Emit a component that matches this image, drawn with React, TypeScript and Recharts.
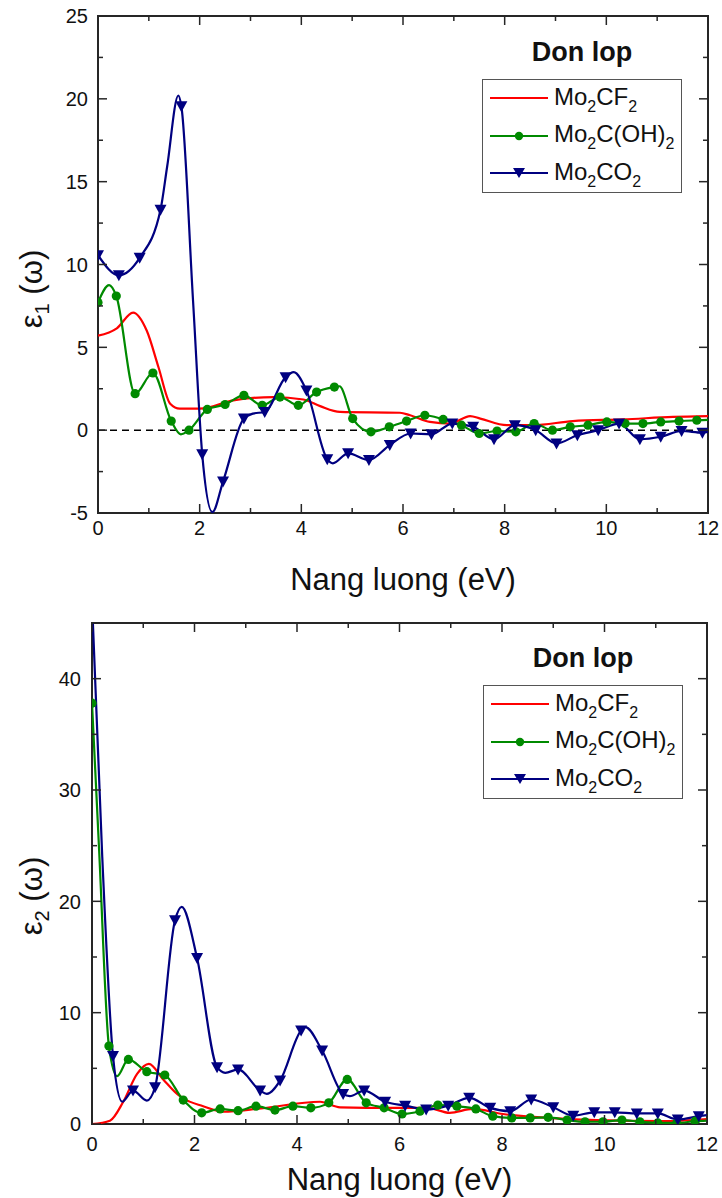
import React from "react";
import { ComposedChart, Line, XAxis, YAxis, ReferenceLine, ReferenceArea } from "recharts";

type Pt = [number, number];

// ---- upper panel: real part eps1 ----
const eps1Cf2: Pt[] = [
  [0, 5.7], [0.37, 6.15], [0.69, 7.1], [0.96, 6.0], [1.19, 3.8], [1.42, 1.6], [1.61, 1.3], [2.0, 1.3],
  [2.66, 1.8], [3.45, 2.0], [4.04, 1.85], [4.37, 1.45], [4.76, 1.1], [5.94, 1.05], [6.14, 0.9], [6.53, 0.5],
  [6.93, 0.4], [7.32, 0.85], [7.52, 0.7], [8.04, 0.3], [8.56, 0.3], [9.34, 0.55], [10.33, 0.65], [11.31, 0.8], [12, 0.85],
];
const eps1OhMarks: Pt[] = [
  [0, 7.7], [0.36, 8.1], [0.73, 2.2], [1.08, 3.45], [1.44, 0.55], [1.79, 0.0], [2.15, 1.25], [2.5, 1.55],
  [2.87, 2.1], [3.23, 1.5], [3.58, 2.0], [3.94, 1.5], [4.3, 2.3], [4.65, 2.6], [5.01, 0.7], [5.37, -0.1],
  [5.73, 0.2], [6.07, 0.55], [6.43, 0.9], [6.79, 0.65], [7.15, 0.3], [7.5, -0.2], [7.85, -0.05], [8.22, -0.1],
  [8.58, 0.4], [8.94, 0.0], [9.29, 0.2], [9.64, 0.3], [10.01, 0.5], [10.37, 0.4], [10.72, 0.4], [11.07, 0.5],
  [11.43, 0.55], [11.78, 0.6],
];
const eps1OhExtra: Pt[] = [[0.22, 8.75], [1.63, -0.25], [4.75, 2.65], [12, 0.62]];
const eps1OMarks: Pt[] = [
  [0, 10.56], [0.41, 9.35], [0.82, 10.4], [1.23, 13.3], [1.64, 19.55], [2.05, -1.45], [2.46, -3.1], [2.87, 0.7],
  [3.28, 1.1], [3.69, 3.2], [4.1, 2.4], [4.51, -1.75], [4.92, -1.4], [5.33, -1.8], [5.74, -0.9], [6.15, -0.2],
  [6.56, -0.25], [6.97, 0.4], [7.38, 0.2], [7.79, -0.55], [8.2, 0.3], [8.61, 0.0], [9.02, -0.8], [9.43, -0.3],
  [9.84, 0.0], [10.25, 0.4], [10.66, -0.55], [11.07, -0.4], [11.48, -0.05], [11.89, -0.15],
];
const eps1OExtra: Pt[] = [[1.36, 15.9], [1.58, 20.2], [1.87, 7.8], [2.25, -4.95], [3.05, 1.0], [3.85, 3.5], [4.62, -2.0], [12, -0.1]];

// ---- lower panel: imaginary part eps2 ----
const eps2Cf2: Pt[] = [
  [0, 0], [0.35, 0.3], [0.61, 2.0], [0.88, 4.5], [1.11, 5.4], [1.39, 4.0], [1.66, 2.7], [1.78, 2.3], [2.17, 1.6],
  [2.56, 1.1], [3.3, 1.4], [4.45, 2.0], [4.84, 1.5], [5.87, 1.45], [6.55, 1.45], [6.98, 1.0], [7.43, 1.35],
  [8.02, 0.9], [8.88, 0.55], [9.85, 0.35], [11.14, 0.25], [12, 0.45],
];
const eps2OhMarks: Pt[] = [
  [0, 37.8], [0.33, 7.0], [0.71, 5.8], [1.07, 4.7], [1.42, 4.4], [1.78, 2.15], [2.14, 1.0], [2.5, 1.35],
  [2.85, 1.2], [3.2, 1.6], [3.57, 1.25], [3.92, 1.6], [4.27, 1.45], [4.62, 1.9], [4.98, 4.0], [5.35, 1.9],
  [5.7, 1.45], [6.05, 0.9], [6.4, 1.15], [6.75, 1.7], [7.12, 1.6], [7.49, 1.35], [7.82, 0.7], [8.19, 0.55],
  [8.55, 0.55], [8.9, 0.6], [9.27, 0.35], [9.62, 0.2], [9.97, 0.2], [10.34, 0.35], [10.69, 0.2], [11.04, 0.1],
  [11.41, 0.1], [11.77, 0.25],
];
const eps2OhExtra: Pt[] = [[0.14, 24.5], [0.49, 4.3], [12, 0.3]];
const eps2OMarks: Pt[] = [
  [0.41, 6.1], [0.8, 3.0], [1.23, 3.3], [1.62, 18.3], [2.05, 14.9], [2.44, 5.1], [2.85, 4.9], [3.28, 3.0],
  [3.67, 3.9], [4.08, 8.4], [4.49, 6.6], [4.9, 2.7], [5.31, 3.0], [5.72, 2.0], [6.11, 1.65], [6.52, 1.3],
  [6.95, 1.65], [7.36, 2.35], [7.77, 1.45], [8.16, 1.15], [8.57, 2.2], [9.0, 1.5], [9.39, 0.75], [9.8, 1.05],
  [10.2, 1.05], [10.63, 0.95], [11.04, 0.95], [11.43, 0.4], [11.84, 0.7],
];
const eps2OExtra: Pt[] = [[0, 47], [0.2, 24], [0.59, 2.0], [1.07, 2.1], [1.75, 19.5], [2.6, 4.6], [3.41, 2.7], [4.16, 8.7], [5.03, 2.5], [12, 0.8]];

const xTicks = [0, 1, 2, 3, 4, 5, 6, 7, 8, 9, 10, 11, 12];
const eps1Ticks = [-5, -2.5, 0, 2.5, 5, 7.5, 10, 12.5, 15, 17.5, 20, 22.5, 25];
const eps2Ticks = [0, 5, 10, 15, 20, 25, 30, 35, 40, 45];

const legendTitle = "Don lop";
// label pieces alternate normal / subscript
const legendLabels = [["Mo", "2", "CF", "2"], ["Mo", "2", "C(OH)", "2"], ["Mo", "2", "CO", "2"]];
const xTitle = "Nang luong (eV)";

const RED = "#ff0000";
const GREEN = "#008a00";
const BLUE = "#000080";
const AXIS = "#262626";
const FONT = "Arial, 'Liberation Sans', Helvetica, sans-serif";

const rows = (pts: Pt[]) => pts.map(([e, v]) => ({ e, v }));
const merge = (a: Pt[], b: Pt[]) => rows([...a, ...b].sort((p, q) => p[0] - q[0]));

const Circle = (p: any) =>
  p.cx == null ? <g key={p.index} /> : <circle key={p.index} cx={p.cx} cy={p.cy} r={4.6} fill={GREEN} />;
const Tri = (p: any) =>
  p.cx == null ? <g key={p.index} /> : (
    <path key={p.index} d={`M${p.cx - 6},${p.cy - 5}L${p.cx + 6},${p.cy - 5}L${p.cx},${p.cy + 6}Z`} fill={BLUE} />
  );

interface PanelProps {
  width: number;
  height: number;
  plot: { left: number; right: number; top: number; bottom: number };
  yDomain: [number, number];
  yTicks: number[];
  yMajor: number;
  yLabelMax: number;
  yLabelGap: number;
  xLabelGap: number;
  sub: string;
  yTitleY: number;
  cf2: Pt[];
  ohMarks: Pt[];
  ohExtra: Pt[];
  oMarks: Pt[];
  oExtra: Pt[];
  zeroLine?: boolean;
}

function Panel(p: PanelProps) {
  const { plot } = p;
  const XTick = (t: any) => {
    const v = t.payload.value;
    const major = v % 2 === 0;
    const len = major ? 9 : 5;
    return (
      <g key={`xt${v}`}>
        <line x1={t.x} x2={t.x} y1={plot.bottom} y2={plot.bottom - len} stroke={AXIS} strokeWidth={1.5} />
        <line x1={t.x} x2={t.x} y1={plot.top} y2={plot.top + len} stroke={AXIS} strokeWidth={1.5} />
        {major && (
          <text x={t.x} y={plot.bottom + p.xLabelGap} dy="0.72em" textAnchor="middle" fontSize={20} fontFamily={FONT} fill="#111">
            {v}
          </text>
        )}
      </g>
    );
  };
  const YTick = (t: any) => {
    const v = t.payload.value;
    const major = v % p.yMajor === 0;
    const len = major ? 9 : 5;
    return (
      <g key={`yt${v}`}>
        <line x1={plot.left} x2={plot.left + len} y1={t.y} y2={t.y} stroke={AXIS} strokeWidth={1.5} />
        <line x1={plot.right} x2={plot.right - len} y1={t.y} y2={t.y} stroke={AXIS} strokeWidth={1.5} />
        {major && v <= p.yLabelMax && (
          <text x={plot.left - p.yLabelGap} y={t.y} dy="0.36em" textAnchor="end" fontSize={20} fontFamily={FONT} fill="#111">
            {v}
          </text>
        )}
      </g>
    );
  };
  const XTitle = () => (
    <text x={(plot.left + plot.right) / 2} y={590} textAnchor="middle" fontSize={31} fontFamily={FONT} fill="#111">
      {xTitle}
    </text>
  );
  const YTitle = () => (
    <text transform={`translate(42,${p.yTitleY}) rotate(-90)`} textAnchor="middle" fontSize={31} fontFamily={FONT} fill="#111">
      <tspan>ε</tspan>
      <tspan fontSize={20} dy={7}>{p.sub}</tspan>
      <tspan dy={-7}> (ω)</tspan>
    </text>
  );

  return (
    <ComposedChart
      width={p.width}
      height={p.height}
      margin={{ top: plot.top, right: p.width - plot.right, bottom: 0, left: 0 }}
    >
      <XAxis
        type="number"
        dataKey="e"
        domain={[0, 12]}
        ticks={xTicks}
        interval={0}
        height={p.height - plot.bottom}
        allowDataOverflow
        axisLine={false}
        tickLine={false}
        tick={XTick}
        label={<XTitle />}
      />
      <YAxis
        type="number"
        dataKey="v"
        domain={p.yDomain}
        ticks={p.yTicks}
        interval={0}
        width={plot.left}
        allowDataOverflow
        axisLine={false}
        tickLine={false}
        tick={YTick}
        label={<YTitle />}
      />
      {p.zeroLine && <ReferenceLine y={0} stroke="#000" strokeWidth={1.5} strokeDasharray="7 5" />}
      <Line data={rows(p.cf2)} dataKey="v" type="monotone" stroke={RED} strokeWidth={2.2} dot={false} activeDot={false} isAnimationActive={false} />
      <Line data={merge(p.ohMarks, p.ohExtra)} dataKey="v" type="monotone" stroke={GREEN} strokeWidth={2.2} dot={false} activeDot={false} isAnimationActive={false} />
      <Line data={rows(p.ohMarks)} dataKey="v" stroke="none" dot={Circle} activeDot={false} isAnimationActive={false} />
      <Line data={merge(p.oMarks, p.oExtra)} dataKey="v" type="monotone" stroke={BLUE} strokeWidth={2.2} dot={false} activeDot={false} isAnimationActive={false} />
      <Line data={rows(p.oMarks)} dataKey="v" stroke="none" dot={Tri} activeDot={false} isAnimationActive={false} />
      <ReferenceArea x1={0} x2={12} y1={p.yDomain[0]} y2={p.yDomain[1]} fill="none" fillOpacity={0} stroke={AXIS} strokeWidth={2} />
    </ComposedChart>
  );
}

function LegendSample({ color, kind }: { color: string; kind: number }) {
  return (
    <svg width={58} height={14} style={{ display: "block" }}>
      <line x1={0} x2={58} y1={7} y2={7} stroke={color} strokeWidth={2.2} />
      {kind === 1 && <circle cx={29} cy={7} r={4.2} fill={color} />}
      {kind === 2 && <path d="M23,2L35,2L29,12Z" fill={color} />}
    </svg>
  );
}

function LegendBox({ left, top }: { left: number; top: number }) {
  const colors = [RED, GREEN, BLUE];
  return (
    <div style={{ position: "absolute", left, top, width: 200, fontFamily: FONT, color: "#111" }}>
      <div style={{ position: "absolute", left: 0, top: -42, width: 200, textAlign: "center", fontWeight: "bold", fontSize: 27, lineHeight: "30px" }}>
        {legendTitle}
      </div>
      <div style={{ position: "absolute", left: 0, top: 0, width: 198, height: 112, border: "1px solid #555" }}>
        {legendLabels.map((parts, i) => (
          <div key={i} style={{ position: "absolute", left: 7, top: 18 + i * 37.5 - 12, height: 24, display: "flex", alignItems: "center" }}>
            <LegendSample color={colors[i]} kind={i} />
            <span style={{ marginLeft: 6, fontSize: 24, lineHeight: "24px", whiteSpace: "nowrap" }}>
              {parts.map((s, j) =>
                j % 2 === 1 ? (
                  <span key={j} style={{ fontSize: 16, position: "relative", top: 7 }}>{s}</span>
                ) : (
                  <span key={j}>{s}</span>
                )
              )}
            </span>
          </div>
        ))}
      </div>
    </div>
  );
}

export default function App() {
  return (
    <div style={{ position: "absolute", left: 0, top: 0, width: 722, height: 1198, background: "#fff" }}>
      <div style={{ position: "absolute", left: 0, top: 0 }}>
        <Panel
          width={722}
          height={600}
          plot={{ left: 98, right: 708, top: 16, bottom: 513 }}
          yDomain={[-5, 25]}
          yTicks={eps1Ticks}
          yMajor={5}
          yLabelMax={25}
          yLabelGap={10}
          xLabelGap={8}
          sub="1"
          yTitleY={289}
          cf2={eps1Cf2}
          ohMarks={eps1OhMarks}
          ohExtra={eps1OhExtra}
          oMarks={eps1OMarks}
          oExtra={eps1OExtra}
          zeroLine
        />
      </div>
      <div style={{ position: "absolute", left: 0, top: 600 }}>
        <Panel
          width={722}
          height={598}
          plot={{ left: 92, right: 707, top: 23, bottom: 524 }}
          yDomain={[0, 45]}
          yTicks={eps2Ticks}
          yMajor={10}
          yLabelMax={40}
          yLabelGap={11}
          xLabelGap={13}
          sub="2"
          yTitleY={296}
          cf2={eps2Cf2}
          ohMarks={eps2OhMarks}
          ohExtra={eps2OhExtra}
          oMarks={eps2OMarks}
          oExtra={eps2OExtra}
        />
      </div>
      <LegendBox left={482} top={79} />
      <LegendBox left={483} top={685} />
    </div>
  );
}
